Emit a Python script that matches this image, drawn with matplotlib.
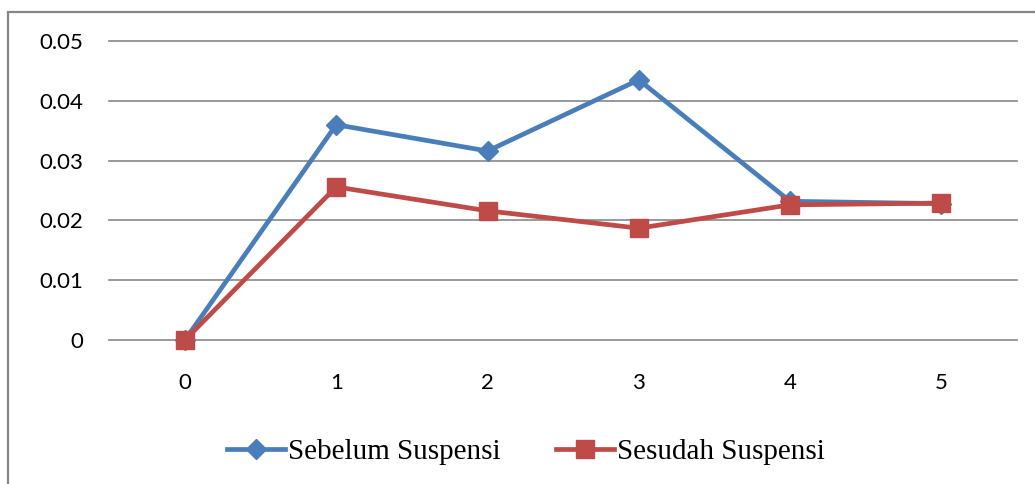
import matplotlib
matplotlib.use("Agg")
import matplotlib.pyplot as plt
import matplotlib.patches as mpatches

WAKTU = [0, 1, 2, 3, 4, 5]
SEBELUM = [0.0, 0.0360, 0.0316, 0.0435, 0.0232, 0.0228]
SESUDAH = [0.0, 0.0256, 0.0216, 0.0187, 0.0226, 0.0229]
Y_TICKS = [0, 0.01, 0.02, 0.03, 0.04, 0.05]
Y_LABELS = ["0", "0.01", "0.02", "0.03", "0.04", "0.05"]

BLUE = "#4A7EBB"
RED = "#BE4B48"

fig = plt.figure(figsize=(10.35, 4.84), dpi=100)
ax = fig.add_axes([0.1056, 0.2975, 0.8770, 0.6178])

# outer chart frame (Excel style)
fig.patches.append(mpatches.Rectangle(
    (8 / 1035, -0.1), 1.2, 1 - 12 / 484 + 0.1, transform=fig.transFigure,
    fill=False, edgecolor="#868686", linewidth=1.6, zorder=0))

for yv in Y_TICKS:
    ax.axhline(yv, color="#878787", linewidth=1.2, zorder=1)

ax.plot(WAKTU, SEBELUM, color=BLUE, linewidth=3.4, marker="D",
        markersize=10, markerfacecolor=BLUE, markeredgecolor=BLUE,
        label="Sebelum Suspensi", zorder=3)
ax.plot(WAKTU, SESUDAH, color=RED, linewidth=3.4, marker="s",
        markersize=13, markerfacecolor=RED, markeredgecolor=RED,
        label="Sesudah Suspensi", zorder=4)

ax.set_xlim(-0.5, 5.5)
ax.set_ylim(0, 0.05)
ax.set_xticks(WAKTU)
ax.set_xticklabels([str(w) for w in WAKTU], family="Lato", fontsize=16)
ax.set_yticks(Y_TICKS)
ax.set_yticklabels(Y_LABELS, family="Lato", fontsize=16)
ax.tick_params(axis="x", length=0, pad=24)
ax.tick_params(axis="y", length=0, pad=19)
for s in ax.spines.values():
    s.set_visible(False)
for ln in ax.lines:
    ln.set_clip_on(False)

fig.legend(loc="center", bbox_to_anchor=(0.508, 0.066), ncol=2,
           frameon=False, prop={"family": "Liberation Serif", "size": 21},
           handlelength=2.0, handletextpad=0.1, columnspacing=1.9)

fig.savefig("out.png", dpi=100)
